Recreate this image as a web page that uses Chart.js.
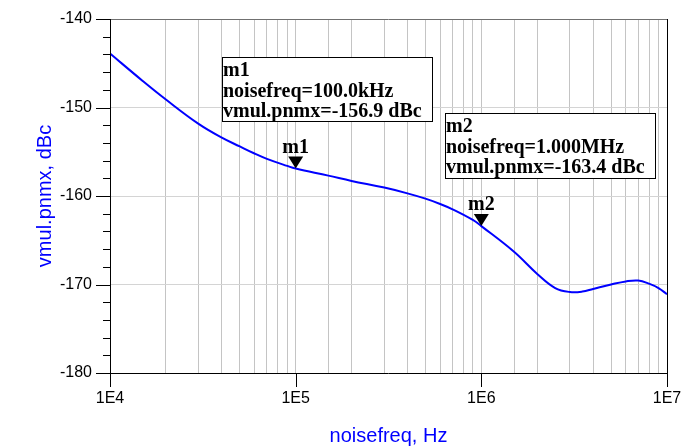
<!DOCTYPE html>
<html>
<head>
<meta charset="utf-8">
<script src="https://cdn.jsdelivr.net/npm/chart.js@4/dist/chart.umd.min.js"></script>
<style>
  html, body { margin: 0; padding: 0; background: #fff; }
  #wrap { width: 684px; height: 448px; }
</style>
</head>
<body>
<div id="wrap"><canvas id="noiseChart" width="684" height="448"></canvas></div>
<script>
"use strict";

// phase noise curve
const noiseFreq = [1e4, 1.5e4, 2e4, 3e4, 4e4, 5e4, 6e4, 7e4, 9e4, 1e5, 1.5e5, 2e5, 3e5, 4e5, 5e5, 6e5, 7e5, 9e5, 1e6, 1.5e6, 2e6, 2.5e6, 3e6, 3.5e6, 4e6, 5e6, 6e6, 7e6, 8e6, 9e6, 1e7];
const pnmx = [-143.9, -147.0, -149.1, -151.85, -153.4, -154.4, -155.2, -155.8, -156.6, -156.9, -157.7, -158.3, -159.05, -159.7, -160.3, -160.9, -161.5, -162.7, -163.4, -166.3, -168.8, -170.4, -170.85, -170.8, -170.5, -170.0, -169.65, -169.55, -169.9, -170.4, -171.1];

const xDecades = [1e4, 1e5, 1e6, 1e7];
const xTickLabels = ["1E4", "1E5", "1E6", "1E7"];
const yMajor = [-140, -150, -160, -170, -180];

const markerNames = ["m1", "m2"];
const markerFreq = [1e5, 1e6];
const markerValue = [-156.9, -163.4];
const markerLines = [
  ["m1", "noisefreq=100.0kHz", "vmul.pnmx=-156.9 dBc"],
  ["m2", "noisefreq=1.000MHz", "vmul.pnmx=-163.4 dBc"],
];

const BLUE = "#0000ff";
const SANS = '"Liberation Sans", Arial, sans-serif';
const SERIF = '"Liberation Serif", "Times New Roman", serif';

const decorPlugin = {
  id: "decor",
  afterDatasetsDraw(chart) {
    const { ctx, chartArea: a, scales } = chart;
    const xs = scales.x, ys = scales.y;
    ctx.save();
    ctx.lineWidth = 1;

    // top frame line
    ctx.strokeStyle = "#707070";
    ctx.beginPath();
    ctx.moveTo(a.left, Math.round(a.top) + 0.5);
    ctx.lineTo(a.right, Math.round(a.top) + 0.5);
    ctx.stroke();

    ctx.strokeStyle = "#000";
    ctx.beginPath();
    // left axis, bottom axis, right frame
    ctx.moveTo(Math.round(a.left) + 0.5, a.top);
    ctx.lineTo(Math.round(a.left) + 0.5, a.bottom);
    ctx.moveTo(a.left, Math.round(a.bottom) + 0.5);
    ctx.lineTo(a.right, Math.round(a.bottom) + 0.5);
    ctx.moveTo(Math.round(a.right) + 0.5, a.top);
    ctx.lineTo(Math.round(a.right) + 0.5, a.bottom);
    // y ticks, major every 10, minor every 2
    for (let v = -180; v <= -140; v += 2) {
      const py = Math.round(ys.getPixelForValue(v)) + 0.5;
      const len = yMajor.includes(v) ? 14 : 7;
      ctx.moveTo(a.left - len, py);
      ctx.lineTo(a.left, py);
    }
    // x decade ticks
    xDecades.forEach((f) => {
      const px = Math.round(xs.getPixelForValue(f)) + 0.5;
      ctx.moveTo(px, a.bottom);
      ctx.lineTo(px, a.bottom + 14);
    });
    ctx.stroke();

    // axis titles
    ctx.fillStyle = BLUE;
    ctx.font = "20px " + SANS;
    ctx.textAlign = "center";
    ctx.textBaseline = "middle";
    ctx.fillText("noisefreq, Hz", (a.left + a.right) / 2, 436);
    ctx.translate(45, (a.top + a.bottom) / 2);
    ctx.rotate(-Math.PI / 2);
    ctx.fillText("vmul.pnmx, dBc", 0, 0);
    ctx.restore();
  },
  afterDraw(chart) {
    const { ctx, scales } = chart;
    const boxes = [
      { left: 222, top: 57, w: 210, h: 64 },
      { left: 445, top: 113, w: 210, h: 65 },
    ];
    ctx.save();
    ctx.font = "bold 20px " + SERIF;
    ctx.textBaseline = "alphabetic";

    markerNames.forEach((name, i) => {
      const px = scales.x.getPixelForValue(markerFreq[i]);
      const py = scales.y.getPixelForValue(markerValue[i]);
      ctx.fillStyle = "#000";
      ctx.beginPath();
      ctx.moveTo(px, py);
      ctx.lineTo(px - 7.5, py - 12);
      ctx.lineTo(px + 7.5, py - 12);
      ctx.closePath();
      ctx.fill();
      ctx.textAlign = "center";
      ctx.fillText(name, px, py - 16);

      const b = boxes[i];
      ctx.fillStyle = "#fff";
      ctx.fillRect(b.left, b.top, b.w, b.h);
      ctx.strokeStyle = "#000";
      ctx.lineWidth = 1;
      ctx.strokeRect(b.left + 0.5, b.top + 0.5, b.w, b.h);
      ctx.fillStyle = "#000";
      ctx.textAlign = "left";
      markerLines[i].forEach((line, k) => {
        ctx.fillText(line, b.left + 1, b.top + 19 + k * 20.5);
      });
    });
    ctx.restore();
  },
};

const ctx = document.getElementById("noiseChart").getContext("2d");

new Chart(ctx, {
  type: "line",
  data: {
    datasets: [
      {
        label: "vmul.pnmx",
        data: noiseFreq.map((f, i) => ({ x: f, y: pnmx[i] })),
        borderColor: BLUE,
        borderWidth: 2,
        pointRadius: 0,
        tension: 0.4,
        fill: false,
      },
    ],
  },
  options: {
    responsive: false,
    animation: false,
    devicePixelRatio: 1,
    layout: { padding: { top: 19, right: 17, left: 0, bottom: 0 } },
    plugins: {
      legend: { display: false },
      tooltip: { enabled: false },
    },
    scales: {
      x: {
        type: "logarithmic",
        min: 1e4,
        max: 1e7,
        afterFit: (scale) => {
          scale.height = 75;
          scale.paddingLeft = 0;
          scale.paddingRight = 0;
        },
        border: { display: false },
        grid: {
          drawTicks: false,
          color: (c) => {
            const v = c.tick ? c.tick.value : 0;
            if (v <= 1e4 || v >= 1e7) return "rgba(0,0,0,0)";
            return "#c4c4c4";
          },
        },
        ticks: {
          autoSkip: false,
          maxRotation: 0,
          padding: 16,
          color: "#000",
          font: { family: SANS, size: 16 },
          callback: (v) => {
            const idx = xDecades.findIndex((d) => Math.abs(d - v) < 1e-6 * d);
            return idx >= 0 ? xTickLabels[idx] : "";
          },
        },
      },
      y: {
        type: "linear",
        min: -180,
        max: -140,
        afterFit: (scale) => {
          scale.width = 110;
          scale.paddingTop = 0;
          scale.paddingBottom = 0;
        },
        border: { display: false },
        grid: {
          drawTicks: false,
          color: (c) => {
            const v = c.tick ? c.tick.value : 0;
            if (v === -180 || v === -140) return "rgba(0,0,0,0)";
            return yMajor.includes(v) ? "#d4d4d4" : "rgba(0,0,0,0)";
          },
        },
        ticks: {
          stepSize: 2,
          autoSkip: false,
          padding: 18,
          color: "#000",
          font: { family: SANS, size: 16 },
          callback: (v) => (yMajor.includes(v) ? String(v) : ""),
        },
      },
    },
  },
  plugins: [decorPlugin],
});
</script>
</body>
</html>
